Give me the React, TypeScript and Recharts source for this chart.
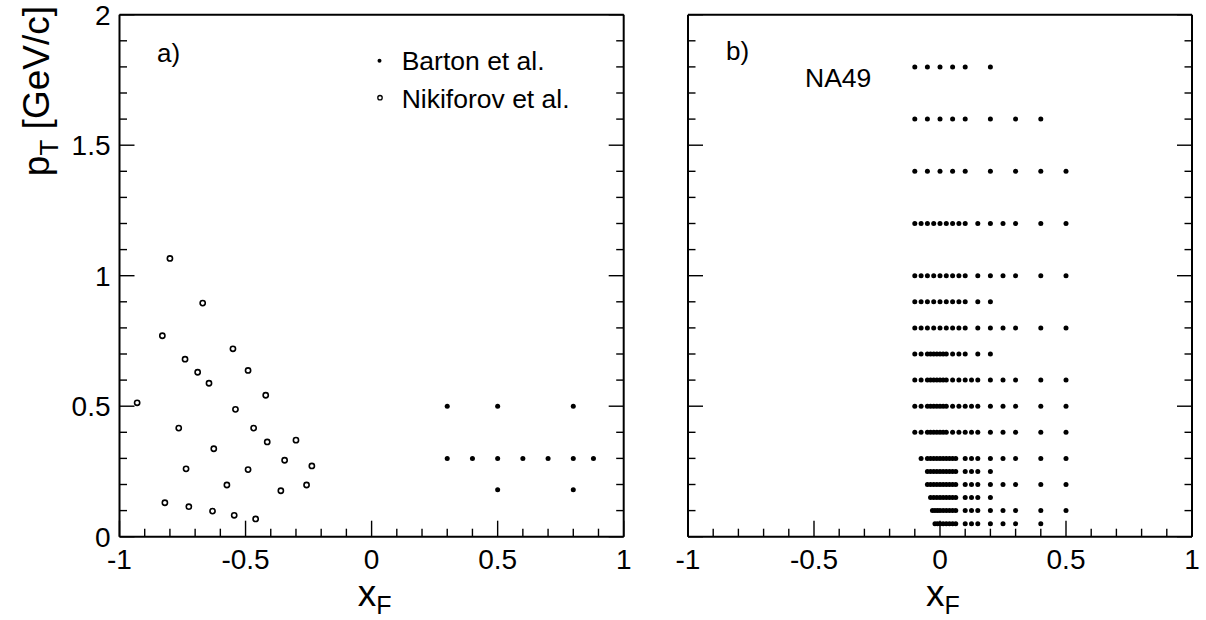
import { Legend, Scatter, ScatterChart, XAxis, YAxis } from "recharts";

const FONT = '"Liberation Sans", Arial, Helvetica, sans-serif';

// axis ticks: every 0.1, labels on the 0.5 steps
const xTicks = [-1, -0.9, -0.8, -0.7, -0.6, -0.5, -0.4, -0.3, -0.2, -0.1, 0, 0.1, 0.2, 0.3, 0.4, 0.5, 0.6, 0.7, 0.8, 0.9, 1];
const yTicks = [0, 0.1, 0.2, 0.3, 0.4, 0.5, 0.6, 0.7, 0.8, 0.9, 1, 1.1, 1.2, 1.3, 1.4, 1.5, 1.6, 1.7, 1.8, 1.9, 2];

// a) Barton et al.
const bartonXf = [0.3, 0.5, 0.8, 0.3, 0.4, 0.5, 0.6, 0.7, 0.8, 0.88, 0.5, 0.8];
const bartonPt = [0.5, 0.5, 0.5, 0.3, 0.3, 0.3, 0.3, 0.3, 0.3, 0.3, 0.18, 0.18];

// a) Nikiforov et al.
const nikiforovXf = [
  -0.8, -0.67, -0.83, -0.55, -0.74, -0.69, -0.49, -0.645, -0.42, -0.93, -0.54, -0.765, -0.468, -0.414,
  -0.3, -0.626, -0.345, -0.736, -0.49, -0.237, -0.574, -0.36, -0.258, -0.82, -0.725, -0.631, -0.545, -0.46,
];
const nikiforovPt = [
  1.066, 0.895, 0.77, 0.72, 0.68, 0.63, 0.637, 0.588, 0.542, 0.513, 0.488, 0.416, 0.416, 0.363,
  0.37, 0.337, 0.293, 0.26, 0.257, 0.271, 0.198, 0.176, 0.198, 0.13, 0.115, 0.098, 0.082, 0.068,
];

// b) NA49 bins: one xF list per pT row
const na49Pt = [1.8, 1.6, 1.4, 1.2, 1.0, 0.9, 0.8, 0.7, 0.6, 0.5, 0.4, 0.3, 0.25, 0.2, 0.15, 0.1, 0.05];
const na49Xf = [
  [-0.1, -0.05, 0, 0.05, 0.1, 0.2],
  [-0.1, -0.05, 0, 0.05, 0.1, 0.2, 0.3, 0.4],
  [-0.1, -0.05, 0, 0.05, 0.1, 0.2, 0.3, 0.4, 0.5],
  [-0.1, -0.075, -0.05, -0.025, 0, 0.025, 0.05, 0.075, 0.1, 0.15, 0.2, 0.25, 0.3, 0.4, 0.5],
  [-0.1, -0.075, -0.05, -0.025, 0, 0.025, 0.05, 0.075, 0.1, 0.15, 0.2, 0.25, 0.3, 0.4, 0.5],
  [-0.1, -0.075, -0.05, -0.025, 0, 0.025, 0.05, 0.075, 0.1, 0.15, 0.2],
  [-0.1, -0.075, -0.05, -0.025, 0, 0.025, 0.05, 0.075, 0.1, 0.15, 0.2, 0.25, 0.3, 0.4, 0.5],
  [-0.1, -0.075, -0.05, -0.0375, -0.025, -0.0125, 0, 0.0125, 0.025, 0.05, 0.075, 0.1, 0.15, 0.2],
  [-0.1, -0.075, -0.05, -0.0375, -0.025, -0.0125, 0, 0.0125, 0.025, 0.05, 0.075, 0.1, 0.125, 0.15, 0.2, 0.25, 0.3, 0.4, 0.5],
  [-0.1, -0.075, -0.05, -0.0375, -0.025, -0.0125, 0, 0.0125, 0.025, 0.05, 0.075, 0.1, 0.125, 0.15, 0.2, 0.25, 0.3, 0.4, 0.5],
  [-0.1, -0.075, -0.05, -0.0375, -0.025, -0.0125, 0, 0.0125, 0.025, 0.05, 0.075, 0.1, 0.125, 0.15, 0.2, 0.25, 0.3, 0.4, 0.5],
  [-0.075, -0.05, -0.0375, -0.025, -0.0125, 0, 0.0125, 0.025, 0.0375, 0.05, 0.0625, 0.1, 0.125, 0.15, 0.2, 0.25, 0.3, 0.4, 0.5],
  [-0.05, -0.0375, -0.025, -0.0125, 0, 0.0125, 0.025, 0.0375, 0.05, 0.0625, 0.1, 0.125, 0.15, 0.2],
  [-0.05, -0.0375, -0.025, -0.0125, 0, 0.0125, 0.025, 0.0375, 0.05, 0.0625, 0.1, 0.125, 0.15, 0.2, 0.25, 0.3, 0.4, 0.5],
  [-0.0375, -0.025, -0.0125, 0, 0.0125, 0.025, 0.0375, 0.05, 0.0625, 0.1, 0.125, 0.15, 0.2],
  [-0.03, -0.02, -0.01, 0, 0.0125, 0.025, 0.0375, 0.05, 0.0625, 0.1, 0.125, 0.15, 0.2, 0.25, 0.3, 0.4, 0.5],
  [-0.02, -0.01, 0, 0.0125, 0.025, 0.0375, 0.05, 0.0625, 0.1, 0.125, 0.15, 0.2, 0.25, 0.3, 0.4],
];

const bartonPoints = bartonXf.map((x, i) => ({ x, y: bartonPt[i] }));
const nikiforovPoints = nikiforovXf.map((x, i) => ({ x, y: nikiforovPt[i] }));
const na49Points = na49Pt.flatMap((pt, i) => na49Xf[i].map((x) => ({ x, y: pt })));

const isMajor = (v: number) => Math.abs(v * 2 - Math.round(v * 2)) < 1e-6;

type TickProps = { x?: number; y?: number; payload?: { value: number } };

// ticks point into the frame, ROOT style
function xTick(side: "bottom" | "top", labelled: boolean) {
  return ({ x = 0, y = 0, payload }: TickProps) => {
    const v = payload?.value ?? 0;
    const len = isMajor(v) ? 16 : 8;
    const dir = side === "bottom" ? -1 : 1;
    return (
      <g>
        <line x1={x} x2={x} y1={y} y2={y + dir * len} stroke="#000" strokeWidth={1.4} />
        {labelled && isMajor(v) && (
          <text x={x} y={y + 32.5} textAnchor="middle" fontSize={28} fontFamily={FONT} fill="#000">
            {String(v)}
          </text>
        )}
      </g>
    );
  };
}

function yTick(side: "left" | "right", labelled: boolean) {
  return ({ x = 0, y = 0, payload }: TickProps) => {
    const v = payload?.value ?? 0;
    const len = isMajor(v) ? 15 : 7.5;
    const dir = side === "left" ? 1 : -1;
    return (
      <g>
        <line x1={x} x2={x + dir * len} y1={y} y2={y} stroke="#000" strokeWidth={1.4} />
        {labelled && isMajor(v) && (
          <text x={x - 9} y={y + 10} textAnchor="end" fontSize={28} fontFamily={FONT} fill="#000">
            {String(v)}
          </text>
        )}
      </g>
    );
  };
}

type ViewBox = { x?: number; y?: number; width?: number; height?: number };

function XTitle({ viewBox }: { viewBox?: ViewBox }) {
  const vb = viewBox ?? {};
  const cx = (vb.x ?? 0) + (vb.width ?? 0) / 2 + 3;
  const y = (vb.y ?? 0) + 69;
  return (
    <text x={cx} y={y} textAnchor="middle" fontSize={37} fontFamily={FONT} fill="#000">
      x<tspan fontSize={25} dy={8}>F</tspan>
    </text>
  );
}

function YTitle() {
  return (
    <text
      x={49}
      y={6}
      transform="rotate(-90 49 6)"
      textAnchor="end"
      fontSize={37}
      fontFamily={FONT}
      fill="#000"
    >
      p<tspan fontSize={26} dy={9}>T</tspan>
      <tspan dy={-9}> [GeV/c]</tspan>
    </text>
  );
}

const axisLine = { stroke: "#000", strokeWidth: 2 };

// axes are 1px thick so they still render; the margins take that into account
function frameAxes(yLabels: boolean) {
  return [
    <XAxis
      key="xb"
      xAxisId="b"
      type="number"
      dataKey="x"
      domain={[-1, 1]}
      allowDataOverflow
      ticks={xTicks}
      interval={0}
      height={1}
      tickSize={0}
      tickMargin={0}
      tickLine={false}
      axisLine={axisLine}
      tick={xTick("bottom", true)}
      label={<XTitle />}
    />,
    <XAxis
      key="xt"
      xAxisId="t"
      orientation="top"
      type="number"
      domain={[-1, 1]}
      allowDataOverflow
      ticks={xTicks}
      interval={0}
      height={1}
      tickSize={0}
      tickMargin={0}
      tickLine={false}
      axisLine={axisLine}
      tick={xTick("top", false)}
    />,
    <YAxis
      key="yl"
      yAxisId="l"
      type="number"
      dataKey="y"
      domain={[0, 2]}
      allowDataOverflow
      ticks={yTicks}
      interval={0}
      width={1}
      tickSize={0}
      tickMargin={0}
      tickLine={false}
      axisLine={axisLine}
      tick={yTick("left", yLabels)}
    />,
    <YAxis
      key="yr"
      yAxisId="r"
      orientation="right"
      type="number"
      domain={[0, 2]}
      allowDataOverflow
      ticks={yTicks}
      interval={0}
      width={1}
      tickSize={0}
      tickMargin={0}
      tickLine={false}
      axisLine={axisLine}
      tick={yTick("right", false)}
    />,
  ];
}

const filledDot = (props: { cx?: number; cy?: number }) => (
  <circle cx={props.cx} cy={props.cy} r={2.5} fill="#000" />
);
const openDot = (props: { cx?: number; cy?: number }) => (
  <circle cx={props.cx} cy={props.cy} r={2.6} fill="#fff" stroke="#000" strokeWidth={1.6} />
);

function LegendBox({ payload }: { payload?: { value?: string }[] }) {
  const items = payload ?? [];
  return (
    <svg width={240} height={80}>
      {items.map((entry, i) => (
        <g key={String(entry.value)}>
          {i === 0 ? (
            <circle cx={9.5} cy={20.7 + i * 37} r={2} fill="#000" />
          ) : (
            <circle cx={10} cy={20.7 + i * 37} r={2.2} fill="#fff" stroke="#000" strokeWidth={1.3} />
          )}
          <text x={31.7} y={30 + i * 38.3} fontSize={26.5} fontFamily={FONT} fill="#000">
            {entry.value}
          </text>
        </g>
      ))}
    </svg>
  );
}

const textStyle = { fontSize: 26, fontFamily: FONT, fill: "#000" };

export default function App() {
  return (
    <div style={{ position: "absolute", left: 0, top: 0, width: 1206, height: 620, background: "#fff" }}>
      <svg width={130} height={200} style={{ position: "absolute", left: 0, top: 0 }}>
        <YTitle />
      </svg>
      <div style={{ position: "absolute", left: 0, top: 0 }}>
        <ScatterChart width={640} height={620} margin={{ top: 13.7, right: 15.3, bottom: 82.3, left: 118.5 }}>
          {frameAxes(true)}
          <Scatter
            name="Barton et al."
            xAxisId="b"
            yAxisId="l"
            data={bartonPoints}
            shape={filledDot}
            isAnimationActive={false}
          />
          <Scatter
            name="Nikiforov et al."
            xAxisId="b"
            yAxisId="l"
            data={nikiforovPoints}
            shape={openDot}
            isAnimationActive={false}
          />
          <Legend
            layout="vertical"
            align="center"
            verticalAlign="middle"
            wrapperStyle={{ left: 370, top: 40, width: 240, height: 80 }}
            content={(p: any) => <LegendBox payload={p.payload} />}
          />
          <text x={157} y={62} {...textStyle}>
            a)
          </text>
        </ScatterChart>
      </div>
      <div style={{ position: "absolute", left: 640, top: 0 }}>
        <ScatterChart width={566} height={620} margin={{ top: 13.7, right: 13, bottom: 82.3, left: 47 }}>
          {frameAxes(false)}
          <Scatter
            name="NA49"
            xAxisId="b"
            yAxisId="l"
            data={na49Points}
            shape={filledDot}
            isAnimationActive={false}
          />
          <text x={86} y={60} {...textStyle}>
            b)
          </text>
          <text x={165} y={87.3} fontSize={26.5} fontFamily={FONT} fill="#000">
            NA49
          </text>
        </ScatterChart>
      </div>
    </div>
  );
}
